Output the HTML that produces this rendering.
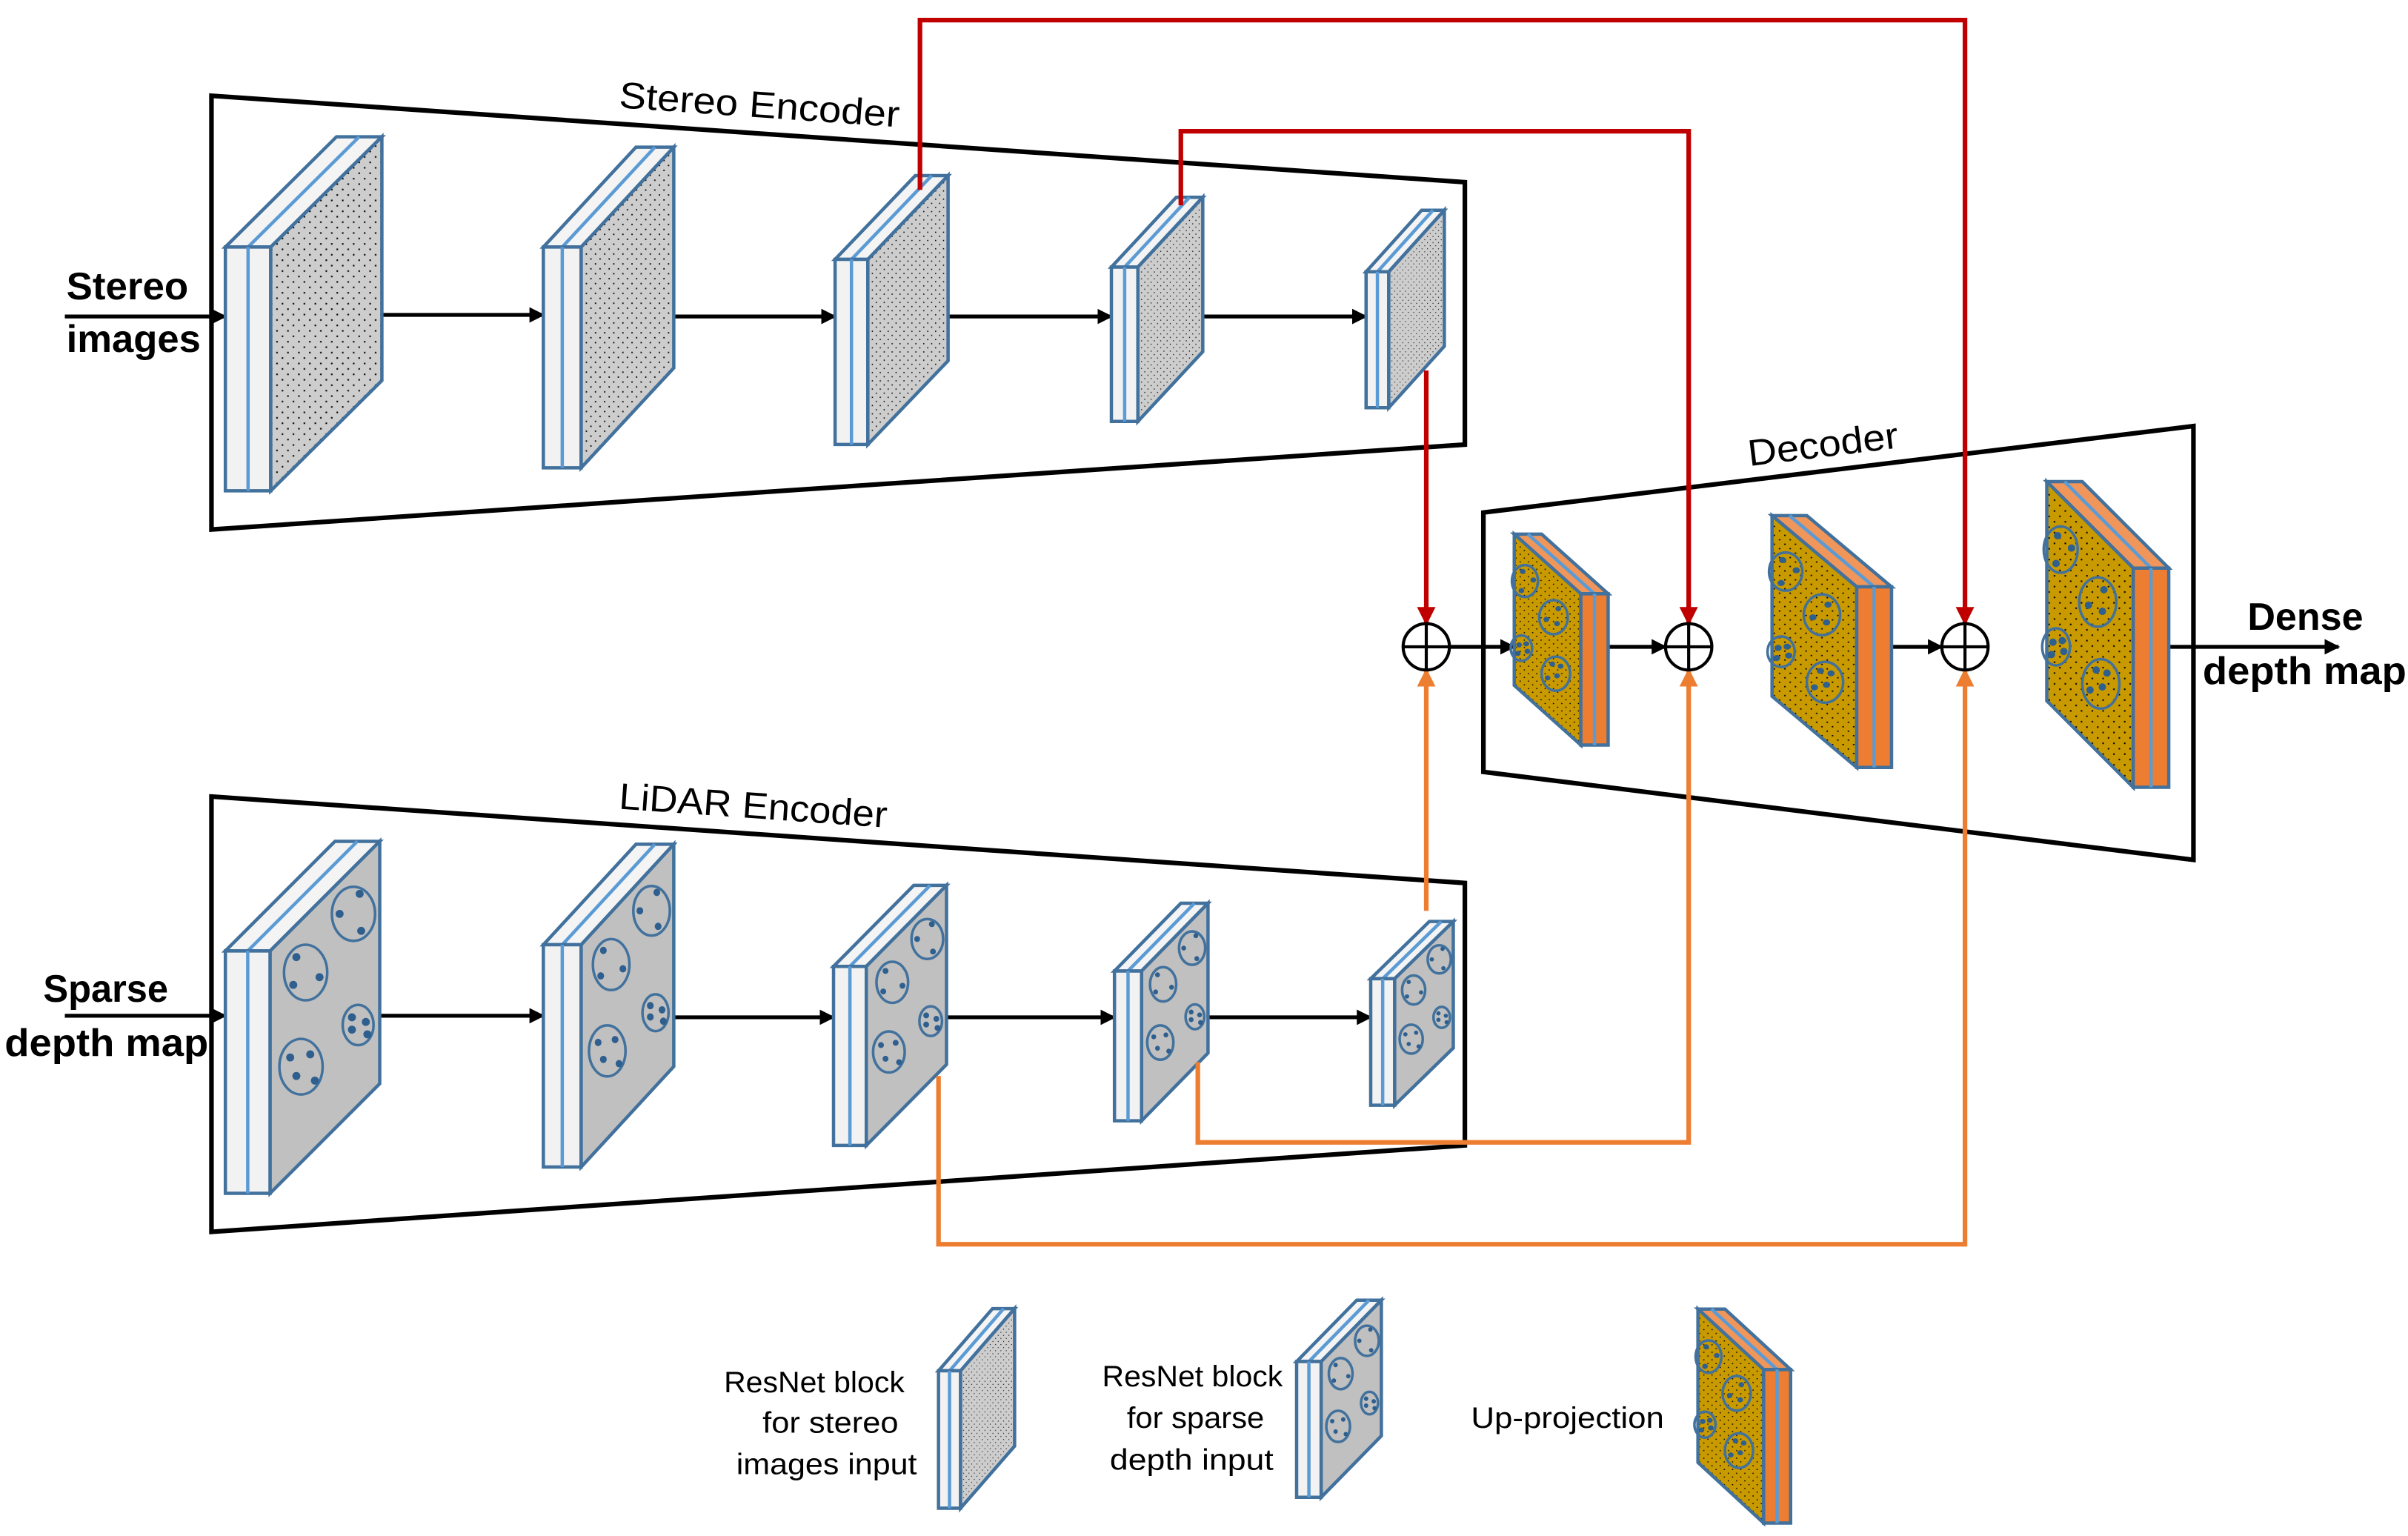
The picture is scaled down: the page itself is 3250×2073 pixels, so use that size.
<!DOCTYPE html>
<html><head><meta charset="utf-8"><style>html,body{margin:0;padding:0;background:#fff}svg{display:block}</style></head>
<body>
<svg width="3250" height="2073" viewBox="0 0 1560 995" xmlns="http://www.w3.org/2000/svg" font-family="'Liberation Sans', sans-serif">
<defs>
<pattern id="dg" width="7" height="7" patternUnits="userSpaceOnUse"><rect width="7" height="7" fill="#cdcdcd"/><rect x="1" y="1" width="1" height="1" fill="#000"/><rect x="4.5" y="4.5" width="1" height="1" fill="#000"/></pattern>
<pattern id="do" width="7" height="7" patternUnits="userSpaceOnUse"><rect width="7" height="7" fill="#c99a00"/><rect x="1" y="1" width="1" height="1" fill="#000"/><rect x="4.5" y="4.5" width="1" height="1" fill="#000"/></pattern>
<marker id="ab" viewBox="0 0 10 10" refX="9" refY="5" markerWidth="4" markerHeight="4" orient="auto"><path d="M0,0L10,5L0,10z" fill="#000"/></marker>
<marker id="ar" viewBox="0 0 10 10" refX="9" refY="5" markerWidth="4" markerHeight="4" orient="auto"><path d="M0,0L10,5L0,10z" fill="#c00000"/></marker>
<marker id="ao" viewBox="0 0 10 10" refX="9" refY="5" markerWidth="4" markerHeight="4" orient="auto"><path d="M0,0L10,5L0,10z" fill="#ed7d31"/></marker>
<g id="sb" stroke="#41719c" stroke-width="4.5">
<polygon points="0,0 71,-71 100,-71 29,0" fill="#f4f4f4" vector-effect="non-scaling-stroke"/>
<line x1="14.5" y1="0" x2="85.5" y2="-71" stroke="#5b9bd5" vector-effect="non-scaling-stroke"/>
<rect x="0" y="0" width="29" height="157" fill="#f2f2f2" vector-effect="non-scaling-stroke"/>
<line x1="14.5" y1="0" x2="14.5" y2="157" stroke="#5b9bd5" vector-effect="non-scaling-stroke"/>
<polygon points="29,0 100,-71 100,86 29,157" fill="url(#dg)" vector-effect="non-scaling-stroke"/>
</g>
<g id="cl" stroke="#41719c" stroke-width="3.5" fill="none">
<ellipse cx="52" cy="14" rx="14" ry="18" vector-effect="non-scaling-stroke"/>
<ellipse cx="83" cy="-24" rx="14" ry="17.5" vector-effect="non-scaling-stroke"/>
<ellipse cx="86" cy="48" rx="10" ry="13" vector-effect="non-scaling-stroke"/>
<ellipse cx="49" cy="75" rx="14" ry="18" vector-effect="non-scaling-stroke"/>
<g fill="#2f5f8f" stroke="none">
<circle cx="46" cy="4" r="2.6"/><circle cx="44" cy="22" r="2.6"/><circle cx="61" cy="17" r="2.6"/>
<circle cx="87" cy="-37" r="2.6"/><circle cx="74" cy="-24" r="2.6"/><circle cx="88" cy="-13" r="2.6"/>
<circle cx="82" cy="43" r="2.6"/><circle cx="91" cy="46" r="2.6"/><circle cx="82" cy="51" r="2.6"/><circle cx="92" cy="54" r="2.6"/>
<circle cx="42" cy="69" r="2.6"/><circle cx="55" cy="67" r="2.6"/><circle cx="46" cy="81" r="2.6"/><circle cx="58" cy="84" r="2.6"/>
</g>
</g>
<g id="lb" stroke="#41719c" stroke-width="4.5">
<polygon points="0,0 71,-71 100,-71 29,0" fill="#f4f4f4" vector-effect="non-scaling-stroke"/>
<line x1="14.5" y1="0" x2="85.5" y2="-71" stroke="#5b9bd5" vector-effect="non-scaling-stroke"/>
<rect x="0" y="0" width="29" height="157" fill="#f2f2f2" vector-effect="non-scaling-stroke"/>
<line x1="14.5" y1="0" x2="14.5" y2="157" stroke="#5b9bd5" vector-effect="non-scaling-stroke"/>
<polygon points="29,0 100,-71 100,86 29,157" fill="#c0c0c0" vector-effect="non-scaling-stroke"/>
<use href="#cl"/>
</g>
<g id="db" stroke="#41719c" stroke-width="4.5">
<polygon points="0,0 23,0 79,56 56,56" fill="#f0965a" vector-effect="non-scaling-stroke"/>
<line x1="11.5" y1="0" x2="67.5" y2="56" stroke="#5b9bd5" vector-effect="non-scaling-stroke"/>
<polygon points="0,0 56,56 56,198 0,142" fill="url(#do)" vector-effect="non-scaling-stroke"/>
<rect x="56" y="56" width="23" height="142" fill="#ed7d31" vector-effect="non-scaling-stroke"/>
<line x1="67.5" y1="56" x2="67.5" y2="198" stroke="#5b9bd5" vector-effect="non-scaling-stroke"/>
<g fill="none" stroke-width="3.5">
<ellipse cx="9" cy="44" rx="11" ry="15" vector-effect="non-scaling-stroke"/>
<ellipse cx="33" cy="78" rx="12" ry="16" vector-effect="non-scaling-stroke"/>
<ellipse cx="6" cy="107" rx="9" ry="12" vector-effect="non-scaling-stroke"/>
<ellipse cx="35" cy="131" rx="12" ry="16" vector-effect="non-scaling-stroke"/>
</g>
<g fill="#2f5f8f" stroke="none">
<circle cx="7" cy="35" r="2.4"/><circle cx="16" cy="43" r="2.4"/><circle cx="6" cy="53" r="2.4"/>
<circle cx="37" cy="70" r="2.4"/><circle cx="27" cy="80" r="2.4"/><circle cx="36" cy="84" r="2.4"/>
<circle cx="4" cy="104" r="2.4"/><circle cx="10" cy="103" r="2.4"/><circle cx="11" cy="110" r="2.4"/><circle cx="3" cy="112" r="2.4"/>
<circle cx="32" cy="122" r="2.4"/><circle cx="39" cy="124" r="2.4"/><circle cx="28" cy="135" r="2.4"/><circle cx="36" cy="133" r="2.4"/>
</g>
</g>
</defs>

<g fill="none" stroke="#000" stroke-width="3">
<polygon points="137,62 949,118 949,288 137,343"/>
<polygon points="137,516 949,572 949,742 137,798"/>
<polygon points="961,332 1421,276 1421,557 961,500"/>
</g>
<text x="492" y="76" font-size="24" text-anchor="middle" transform="rotate(4 492 68)" textLength="182" lengthAdjust="spacingAndGlyphs">Stereo Encoder</text>
<text x="488" y="530" font-size="24" text-anchor="middle" transform="rotate(4 488 522)" textLength="174" lengthAdjust="spacingAndGlyphs">LiDAR Encoder</text>
<text x="1181" y="296" font-size="24" text-anchor="middle" transform="rotate(-7 1181 288)" textLength="98" lengthAdjust="spacingAndGlyphs">Decoder</text>

<g stroke="#000" stroke-width="2.5" fill="none" marker-end="url(#ab)">
<line x1="42" y1="205" x2="146" y2="205"/>
<line x1="246" y1="204" x2="352" y2="204"/>
<line x1="436" y1="205" x2="541" y2="205"/>
<line x1="614" y1="205" x2="720" y2="205"/>
<line x1="780" y1="205" x2="885" y2="205"/>
<line x1="42" y1="658" x2="146" y2="658"/>
<line x1="246" y1="658" x2="352" y2="658"/>
<line x1="436" y1="659" x2="540" y2="659"/>
<line x1="614" y1="659" x2="722" y2="659"/>
<line x1="780" y1="659" x2="888" y2="659"/>
<line x1="939" y1="419" x2="981" y2="419"/>
<line x1="1041" y1="419" x2="1079" y2="419"/>
<line x1="1222" y1="419" x2="1258" y2="419"/>
<line x1="1405" y1="419" x2="1515" y2="419"/>
</g>

<use href="#sb" transform="translate(146 160) scale(1.014 1.006)"/>
<use href="#sb" transform="translate(352 160) scale(0.845 0.911)"/>
<use href="#sb" transform="translate(541 168) scale(0.732 0.764)"/>
<use href="#sb" transform="translate(720 173) scale(0.592 0.637)"/>
<use href="#sb" transform="translate(885 176) scale(0.507 0.561)"/>
<use href="#lb" transform="translate(146 616)"/>
<use href="#lb" transform="translate(352 612) scale(0.845 0.917)"/>
<use href="#lb" transform="translate(540 626) scale(0.732 0.739)"/>
<use href="#lb" transform="translate(722 629) scale(0.606 0.618)"/>
<use href="#lb" transform="translate(888 634) scale(0.535 0.522)"/>
<use href="#db" transform="translate(981 346) scale(0.77 0.69)"/>
<use href="#db" transform="translate(1148 334) scale(0.98 0.824)"/>
<use href="#db" transform="translate(1326 312)"/>

<g stroke="#c00000" stroke-width="3" fill="none" marker-end="url(#ar)">
<polyline points="924,240 924,404"/>
<polyline points="765,133 765,85 1094,85 1094,404"/>
<polyline points="596,123 596,13 1273,13 1273,404"/>
</g>
<g stroke="#ed7d31" stroke-width="3" fill="none" marker-end="url(#ao)">
<polyline points="924,590 924,434"/>
<polyline points="776,688 776,740 1094,740 1094,434"/>
<polyline points="608,697 608,806 1273,806 1273,434"/>
</g>
<g stroke="#000" stroke-width="2" fill="#fff">
<circle cx="924" cy="419" r="15"/><path d="M909,419h30M924,404v30"/>
<circle cx="1094" cy="419" r="15"/><path d="M1079,419h30M1094,404v30"/>
<circle cx="1273" cy="419" r="15"/><path d="M1258,419h30M1273,404v30"/>
</g>

<g font-weight="bold" font-size="25">
<text x="43" y="194" textLength="79" lengthAdjust="spacingAndGlyphs">Stereo</text>
<text x="43" y="228" textLength="87" lengthAdjust="spacingAndGlyphs">images</text>
<text x="28" y="649" textLength="81" lengthAdjust="spacingAndGlyphs">Sparse</text>
<text x="3" y="684" textLength="132" lengthAdjust="spacingAndGlyphs">depth map</text>
<text x="1456" y="408" textLength="75" lengthAdjust="spacingAndGlyphs">Dense</text>
<text x="1427" y="443" textLength="132" lengthAdjust="spacingAndGlyphs">depth map</text>
</g>

<use href="#sb" transform="translate(608 888) scale(0.493 0.567)"/>
<use href="#lb" transform="translate(840 882) scale(0.549 0.56)"/>
<use href="#db" transform="translate(1100 848) scale(0.76 0.70)"/>
<g font-size="19">
<text x="469" y="902" textLength="117" lengthAdjust="spacingAndGlyphs">ResNet block</text>
<text x="494" y="928" textLength="88" lengthAdjust="spacingAndGlyphs">for stereo</text>
<text x="477" y="955" textLength="117" lengthAdjust="spacingAndGlyphs">images input</text>
<text x="714" y="898" textLength="117" lengthAdjust="spacingAndGlyphs">ResNet block</text>
<text x="730" y="925" textLength="89" lengthAdjust="spacingAndGlyphs">for sparse</text>
<text x="719" y="952" textLength="106" lengthAdjust="spacingAndGlyphs">depth input</text>
<text x="953" y="925" textLength="125" lengthAdjust="spacingAndGlyphs">Up-projection</text>
</g>
</svg>
</body></html>
